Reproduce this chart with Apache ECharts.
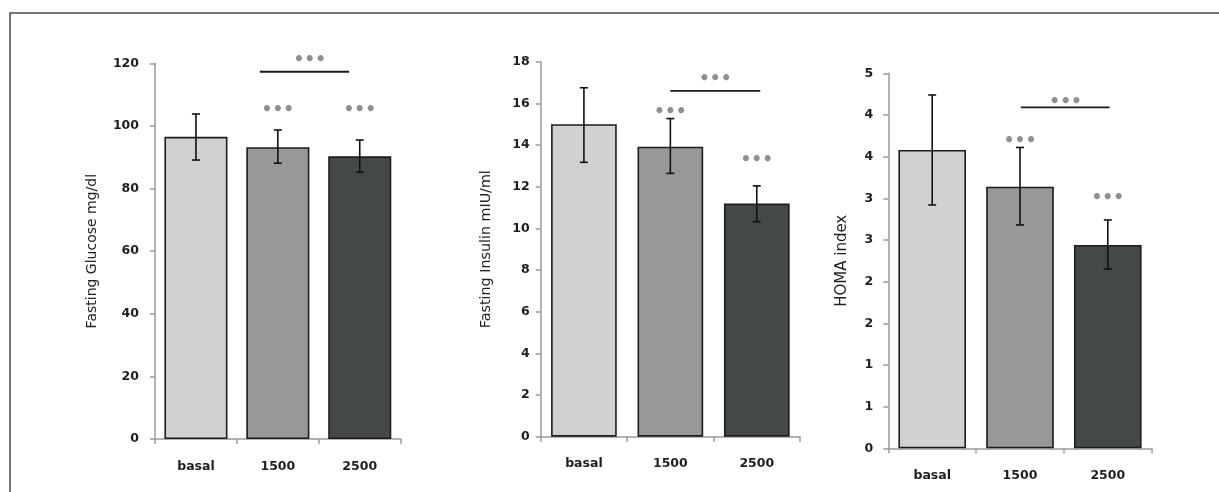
<!DOCTYPE html>
<html>
<head>
<meta charset="utf-8">
<script src="https://cdn.jsdelivr.net/npm/echarts@6/dist/echarts.min.js"></script>
<style>
html,body{margin:0;padding:0;background:#fff;}
#c{width:1219px;height:492px;}
</style>
</head>
<body>
<div id="c"></div>
<script>
// ---- data ----
const categories = ['basal', '1500', '2500'];
const barColors = ['#d0d2d1', '#97989a', '#454849'];

const glucoseMean = [96.5, 93.2, 90.3];
const glucoseErr  = [[89.1, 103.8], [88.1, 98.7], [85.2, 95.5]];
const insulinMean = [15.0, 13.92, 11.19];
const insulinErr  = [[13.17, 16.75], [12.64, 15.27], [10.32, 12.04]];
const homaMean    = [3.58, 3.14, 2.44];
const homaErr     = [[2.92, 4.24], [2.68, 3.61], [2.15, 2.74]];

const glucoseTicks = [0, 20, 40, 60, 80, 100, 120];
const insulinTicks = [0, 2, 4, 6, 8, 10, 12, 14, 16, 18];
const homaTicks    = [0, 0.5, 1, 1.5, 2, 2.5, 3, 3.5, 4, 4.5];

// significance annotations: bracket [from, to, y] in category units, stars [x, y]
const glucoseBracket = [[0.78, 1.87, 117.3]];
const glucoseStars   = [[1.39, 121.9], [1, 105.8], [2, 105.8]];
const insulinBracket = [[1.0, 2.04, 16.6]];
const insulinStars   = [[1.52, 17.3], [1, 15.7], [2, 13.4]];
const homaBracket    = [[1.01, 2.02, 4.09]];
const homaStars      = [[1.52, 4.19], [1, 3.72], [2, 3.03]];

const yNames = ['Fasting Glucose mg/dl', 'Fasting Insulin mIU/ml', 'HOMA index'];

// ---- layout ----
const grids = [
  {left: 155, top: 63.3, width: 245.7, height: 375.7},
  {left: 540.7, top: 61.7, width: 259.3, height: 375},
  {left: 888.3, top: 73.3, width: 263.4, height: 375}
];
const tickSets = [glucoseTicks, insulinTicks, homaTicks];
const labelMargins = [16, 11, 15];
const nameGaps = [56, 47, 39];
const nameSizes = [14, 14.3, 15];
const means = [glucoseMean, insulinMean, homaMean];
const errs = [glucoseErr, insulinErr, homaErr];
const brackets = [glucoseBracket, insulinBracket, homaBracket];
const stars = [glucoseStars, insulinStars, homaStars];
const gaps = ['23%', '24%', '23%'];

const tickFont = {fontFamily: 'DejaVu Sans', fontWeight: 'bold', fontSize: 12.5, color: '#1e1e1e'};
const axisLineStyle = {color: '#9a9a9a', width: 1.5};

const xAxis = [], yAxis = [], series = [];
for (let i = 0; i < 3; i++) {
  const t = tickSets[i];
  xAxis.push({
    type: 'category', gridIndex: i, data: categories,
    axisLine: {lineStyle: axisLineStyle},
    axisTick: {show: true, length: 5, lineStyle: axisLineStyle},
    axisLabel: Object.assign({margin: 21}, tickFont),
    splitLine: {show: false}
  });
  yAxis.push({
    type: 'value', gridIndex: i, min: t[0], max: t[t.length - 1], interval: t[1] - t[0],
    name: yNames[i], nameLocation: 'middle', nameGap: nameGaps[i], nameRotate: 90,
    nameTextStyle: {fontFamily: 'DejaVu Sans', fontSize: nameSizes[i], color: '#222'},
    axisLine: {show: true, lineStyle: axisLineStyle},
    axisTick: {show: true, length: 5, lineStyle: axisLineStyle},
    axisLabel: Object.assign({margin: labelMargins[i], formatter: v => String(Math.round(v))}, tickFont),
    splitLine: {show: false}
  });
  series.push({
    type: 'bar', xAxisIndex: i, yAxisIndex: i, barCategoryGap: gaps[i],
    data: means[i].map((v, k) => ({value: v, itemStyle: {color: barColors[k]}})),
    itemStyle: {borderColor: '#1c1c1c', borderWidth: 1.6},
    silent: true, z: 2
  });
  series.push({
    type: 'custom', xAxisIndex: i, yAxisIndex: i, z: 3, silent: true,
    data: errs[i].map((e, k) => [k, e[0], e[1]]),
    renderItem: (params, api) => {
      const lo = api.coord([api.value(0), api.value(1)]);
      const hi = api.coord([api.value(0), api.value(2)]);
      const c = 4;
      const st = {stroke: '#111', lineWidth: 1.6};
      return {type: 'group', children: [
        {type: 'line', shape: {x1: lo[0], y1: lo[1], x2: hi[0], y2: hi[1]}, style: st},
        {type: 'line', shape: {x1: lo[0] - c, y1: lo[1], x2: lo[0] + c, y2: lo[1]}, style: st},
        {type: 'line', shape: {x1: hi[0] - c, y1: hi[1], x2: hi[0] + c, y2: hi[1]}, style: st}
      ]};
    }
  });
  series.push({
    type: 'custom', xAxisIndex: i, yAxisIndex: i, z: 3, silent: true, clip: false,
    data: brackets[i],
    renderItem: (params, api) => {
      const bw = api.size([1, 0])[0];
      const c0 = api.coord([0, api.value(2)]);
      const x1 = c0[0] + api.value(0) * bw, x2 = c0[0] + api.value(1) * bw;
      return {type: 'line', shape: {x1: x1, y1: c0[1], x2: x2, y2: c0[1]},
        style: {stroke: '#1a1a1a', lineWidth: 1.8}};
    }
  });
  series.push({
    type: 'custom', xAxisIndex: i, yAxisIndex: i, z: 4, silent: true, clip: false,
    data: stars[i],
    renderItem: (params, api) => {
      const bw = api.size([1, 0])[0];
      const c0 = api.coord([0, api.value(1)]);
      const x = c0[0] + api.value(0) * bw;
      return {type: 'text', x: x, y: c0[1] + 3,
        style: {text: '•••', fontFamily: 'DejaVu Sans', fontWeight: 'bold', fontSize: 17, fill: '#8f8f8f',
          textAlign: 'center', textVerticalAlign: 'middle'}};
    }
  });
}

const chart = echarts.init(document.getElementById('c'), null, {renderer: 'canvas'});
chart.setOption({
  backgroundColor: '#fff',
  animation: false,
  graphic: [{type: 'rect', shape: {x: 10, y: 13, width: 1400, height: 700},
    style: {fill: 'none', stroke: '#4a4a4a', lineWidth: 1.5}, silent: true}],
  grid: grids,
  xAxis: xAxis,
  yAxis: yAxis,
  series: series
});
</script>
</body>
</html>
